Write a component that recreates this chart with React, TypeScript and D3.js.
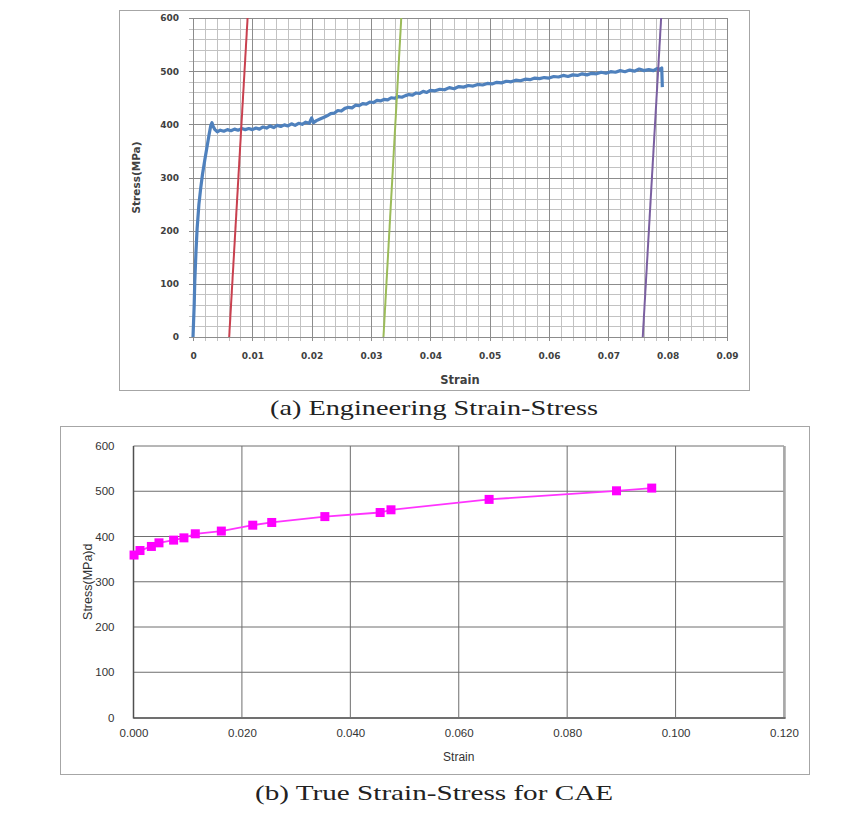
import React, { useEffect, useRef } from "react";
import * as d3 from "d3";

// (a) engineering strain-stress test curve
const engStrain = [
  0, 0.0002, 0.0003, 0.0005, 0.0007, 0.001, 0.0013, 0.0016, 0.002, 0.0024,
  0.0027, 0.003, 0.0032, 0.0034, 0.0037, 0.0041, 0.0046, 0.0052, 0.0058, 0.0064,
  0.007, 0.0076, 0.0082, 0.0088, 0.0094, 0.01, 0.0106, 0.0112, 0.0118, 0.0124,
  0.013, 0.0136, 0.0142, 0.0148, 0.0154, 0.016, 0.0166, 0.0172, 0.0178, 0.0184,
  0.019, 0.0196, 0.02, 0.0203, 0.0208, 0.0214, 0.022, 0.0226, 0.0232, 0.0238,
  0.0244, 0.025, 0.0256, 0.0262, 0.0268, 0.0274, 0.028, 0.0286, 0.0292, 0.0298,
  0.0304, 0.031, 0.0316, 0.0322, 0.0328, 0.0334, 0.034, 0.0346, 0.0352, 0.0358,
  0.0364, 0.037, 0.0376, 0.0382, 0.0388, 0.0394, 0.04, 0.0408, 0.0416, 0.0424,
  0.0432, 0.044, 0.0448, 0.0456, 0.0464, 0.0472, 0.048, 0.0488, 0.0496, 0.0504,
  0.0512, 0.052, 0.0528, 0.0536, 0.0544, 0.0552, 0.056, 0.0568, 0.0576, 0.0584,
  0.0592, 0.06, 0.0608, 0.0616, 0.0624, 0.0632, 0.064, 0.0648, 0.0656, 0.0664,
  0.0672, 0.068, 0.0688, 0.0696, 0.0704, 0.0712, 0.072, 0.0728, 0.0736, 0.0744,
  0.0752, 0.076, 0.0768, 0.0776, 0.0782, 0.0786, 0.079, 0.0791,
];
const engStress = [
  0, 60, 105, 160, 205, 250, 280, 306, 334, 360,
  380, 398, 403, 396, 390, 386, 389, 387, 390, 388,
  391, 389, 392, 390, 392, 390, 393, 391, 395, 393,
  397, 394, 398, 396, 399, 397, 401, 398, 402, 400,
  404, 402, 412, 403, 407, 410, 413, 416, 420, 421,
  426, 425, 430, 432, 431, 436, 435, 439, 438, 442,
  441, 445, 444, 447, 446, 450, 449, 452, 451, 454,
  456, 455, 459, 458, 462, 460, 464, 463, 466, 465,
  469, 467, 471, 470, 473, 472, 475, 474, 477, 476,
  479, 478, 481, 480, 483, 482, 485, 484, 487, 486,
  488, 487, 490, 489, 492, 490, 493, 492, 495, 493,
  496, 495, 498, 496, 499, 498, 501, 499, 502, 500,
  504, 501, 503, 501, 505, 503, 506, 470,
];

// offset lines drawn with the elastic slope
const redLineStrain = [0.0061, 0.0092];
const greenLineStrain = [0.0321, 0.0351];
const purpleLineStrain = [0.0758, 0.0789];
const offsetLineStress = [0, 600];

const engXTicks = [0, 0.01, 0.02, 0.03, 0.04, 0.05, 0.06, 0.07, 0.08, 0.09];
const engYTicks = [0, 100, 200, 300, 400, 500, 600];

// (b) true strain-stress points for CAE
const trueStrain = [
  0.0001, 0.0012, 0.0033, 0.0047, 0.0074, 0.0093, 0.0114, 0.0162, 0.022, 0.0255,
  0.0353, 0.0455, 0.0475, 0.0656, 0.0891, 0.0956,
];
const trueStress = [
  359, 369, 378, 386, 392, 397, 406, 412, 425, 431,
  444, 453, 459, 482, 501, 507,
];
const trueXTicks = [0, 0.02, 0.04, 0.06, 0.08, 0.1, 0.12];
const trueYTicks = [0, 100, 200, 300, 400, 500, 600];

function drawEngineering(svg) {
  const x = d3.scaleLinear().domain([0, 0.09]).range([193, 727]);
  const y = d3.scaleLinear().domain([0, 600]).range([337, 18]);

  svg
    .append("rect")
    .attr("x", 119.5)
    .attr("y", 10.5)
    .attr("width", 630)
    .attr("height", 380)
    .attr("fill", "#fff")
    .attr("stroke", "#a6a6a6");

  const grid = svg.append("g");
  // minor grid (with small outside ticks)
  grid
    .selectAll(".mx")
    .data(x.ticks(45))
    .enter()
    .append("line")
    .attr("x1", (d) => Math.round(x(d)) + 0.5)
    .attr("x2", (d) => Math.round(x(d)) + 0.5)
    .attr("y1", y(0) + 4)
    .attr("y2", y(600))
    .attr("stroke", "#c2c2c2");
  grid
    .selectAll(".my")
    .data(y.ticks(30))
    .enter()
    .append("line")
    .attr("y1", (d) => Math.round(y(d)) + 0.5)
    .attr("y2", (d) => Math.round(y(d)) + 0.5)
    .attr("x1", x(0) - 4)
    .attr("x2", x(0.09))
    .attr("stroke", "#c2c2c2");
  // major grid
  grid
    .selectAll(".Mx")
    .data(engXTicks)
    .enter()
    .append("line")
    .attr("x1", (d) => Math.round(x(d)) + 0.5)
    .attr("x2", (d) => Math.round(x(d)) + 0.5)
    .attr("y1", y(0) + 4)
    .attr("y2", y(600))
    .attr("stroke", "#8c8c8c");
  grid
    .selectAll(".My")
    .data(engYTicks)
    .enter()
    .append("line")
    .attr("y1", (d) => Math.round(y(d)) + 0.5)
    .attr("y2", (d) => Math.round(y(d)) + 0.5)
    .attr("x1", x(0) - 4)
    .attr("x2", x(0.09))
    .attr("stroke", "#8c8c8c");

  svg
    .append("clipPath")
    .attr("id", "engClip")
    .append("rect")
    .attr("x", x(0) - 2)
    .attr("y", y(600))
    .attr("width", x(0.09) - x(0) + 2)
    .attr("height", y(0) - y(600) + 2);

  const plot = svg.append("g").attr("clip-path", "url(#engClip)");
  const line = d3
    .line()
    .x((d) => x(d[0]))
    .y((d) => y(d[1]));

  plot
    .append("path")
    .attr("d", line(engStrain.map((s, i) => [s, engStress[i]])))
    .attr("fill", "none")
    .attr("stroke", "#4F81BD")
    .attr("stroke-width", 3.2)
    .attr("stroke-linejoin", "round");

  [
    [redLineStrain, "#C8404F"],
    [greenLineStrain, "#9BBB59"],
    [purpleLineStrain, "#7A5FA0"],
  ].forEach(([strains, color]) => {
    plot
      .append("path")
      .attr("d", line(strains.map((s, i) => [s, offsetLineStress[i]])))
      .attr("fill", "none")
      .attr("stroke", color)
      .attr("stroke-width", 2);
  });

  const tickFont = "'DejaVu Sans', sans-serif";
  const xAxis = svg
    .append("g")
    .attr("transform", `translate(0,${y(0)})`)
    .call(
      d3
        .axisBottom(x)
        .tickValues(engXTicks)
        .tickSize(0)
        .tickPadding(16)
        .tickFormat((d) => (d === 0 ? "0" : d3.format(".2f")(d)))
    );
  xAxis.select(".domain").remove();
  xAxis
    .selectAll("text")
    .style("font-family", tickFont)
    .style("font-weight", "bold")
    .style("font-size", "9px")
    .attr("fill", "#404040");

  const yAxis = svg
    .append("g")
    .attr("transform", `translate(${x(0)},0)`)
    .call(d3.axisLeft(y).tickValues(engYTicks).tickSize(0).tickPadding(14));
  yAxis.select(".domain").remove();
  yAxis
    .selectAll("text")
    .style("font-family", tickFont)
    .style("font-weight", "bold")
    .style("font-size", "9px")
    .attr("fill", "#404040");

  svg
    .append("text")
    .attr("x", (x(0) + x(0.09)) / 2)
    .attr("y", 384)
    .attr("text-anchor", "middle")
    .style("font-family", tickFont)
    .style("font-weight", "bold")
    .style("font-size", "11.5px")
    .attr("fill", "#404040")
    .text("Strain");

  svg
    .append("text")
    .attr("transform", `translate(140,${(y(0) + y(600)) / 2}) rotate(-90)`)
    .attr("text-anchor", "middle")
    .style("font-family", tickFont)
    .style("font-weight", "bold")
    .style("font-size", "10.5px")
    .attr("fill", "#404040")
    .text("Stress(MPa)");
}

function drawTrue(svg) {
  const x = d3.scaleLinear().domain([0, 0.12]).range([133.5, 784]);
  const y = d3.scaleLinear().domain([0, 600]).range([717.5, 446]);

  svg
    .append("rect")
    .attr("x", 60.5)
    .attr("y", 426.5)
    .attr("width", 749)
    .attr("height", 348)
    .attr("fill", "#fff")
    .attr("stroke", "#a6a6a6");

  const grid = svg.append("g");
  grid
    .selectAll(".gx")
    .data(trueXTicks)
    .enter()
    .append("line")
    .attr("x1", (d) => x(d))
    .attr("x2", (d) => x(d))
    .attr("y1", y(0))
    .attr("y2", y(600))
    .attr("stroke", "#6e6e6e");
  grid
    .selectAll(".gy")
    .data(trueYTicks)
    .enter()
    .append("line")
    .attr("y1", (d) => y(d))
    .attr("y2", (d) => y(d))
    .attr("x1", x(0))
    .attr("x2", x(0.12))
    .attr("stroke", "#6e6e6e");

  // plot-area borders
  svg
    .append("line")
    .attr("x1", x(0.12) + 0.5)
    .attr("x2", x(0.12) + 0.5)
    .attr("y1", y(600))
    .attr("y2", y(0) + 1)
    .attr("stroke", "#a8a8a8")
    .attr("stroke-width", 2.5);
  svg
    .append("line")
    .attr("x1", x(0))
    .attr("x2", x(0.12) + 1.5)
    .attr("y1", y(0) + 0.5)
    .attr("y2", y(0) + 0.5)
    .attr("stroke", "#707070")
    .attr("stroke-width", 2);
  svg
    .append("line")
    .attr("x1", x(0))
    .attr("x2", x(0))
    .attr("y1", y(600))
    .attr("y2", y(0) + 1)
    .attr("stroke", "#505050")
    .attr("stroke-width", 1.5);

  const pts = trueStrain.map((s, i) => [s, trueStress[i]]);
  const line = d3
    .line()
    .x((d) => x(d[0]))
    .y((d) => y(d[1]));

  svg
    .append("path")
    .attr("d", line(pts))
    .attr("fill", "none")
    .attr("stroke", "#FF33FF")
    .attr("stroke-width", 1.8);

  const size = 9;
  svg
    .append("g")
    .selectAll("rect")
    .data(pts)
    .enter()
    .append("rect")
    .attr("x", (d) => x(d[0]) - size / 2)
    .attr("y", (d) => y(d[1]) - size / 2)
    .attr("width", size)
    .attr("height", size)
    .attr("fill", "#FF00FF");

  const font = "'Liberation Sans', Arial, sans-serif";
  const xAxis = svg
    .append("g")
    .attr("transform", `translate(0,${y(0)})`)
    .call(
      d3
        .axisBottom(x)
        .tickValues(trueXTicks)
        .tickSize(0)
        .tickPadding(11)
        .tickFormat(d3.format(".3f"))
    );
  xAxis.select(".domain").remove();
  xAxis
    .selectAll("text")
    .style("font-family", font)
    .style("font-size", "11.5px")
    .attr("fill", "#333");

  const yAxis = svg
    .append("g")
    .attr("transform", `translate(${x(0)},0)`)
    .call(d3.axisLeft(y).tickValues(trueYTicks).tickSize(0).tickPadding(19));
  yAxis.select(".domain").remove();
  yAxis
    .selectAll("text")
    .style("font-family", font)
    .style("font-size", "11.5px")
    .attr("fill", "#333");

  svg
    .append("text")
    .attr("x", (x(0) + x(0.12)) / 2)
    .attr("y", 761)
    .attr("text-anchor", "middle")
    .style("font-family", font)
    .style("font-size", "12px")
    .attr("fill", "#333")
    .text("Strain");

  svg
    .append("text")
    .attr("transform", `translate(92,${(y(0) + y(600)) / 2}) rotate(-90)`)
    .attr("text-anchor", "middle")
    .style("font-family", font)
    .style("font-size", "12.5px")
    .attr("fill", "#333")
    .text("Stress(MPa)d");
}

function drawCaptions(svg) {
  const captions = [
    { text: "(a) Engineering Strain-Stress", x: 270, y: 415, len: 328 },
    { text: "(b) True Strain-Stress for CAE", x: 255, y: 800, len: 358 },
  ];
  captions.forEach((c) => {
    svg
      .append("text")
      .attr("x", c.x)
      .attr("y", c.y)
      .attr("textLength", c.len)
      .attr("lengthAdjust", "spacingAndGlyphs")
      .style("font-family", "'Liberation Serif', serif")
      .style("font-size", "21px")
      .attr("fill", "#222")
      .text(c.text);
  });
}

const App = () => {
  const ref = useRef(null);

  useEffect(() => {
    const svg = d3.select(ref.current);
    svg.selectAll("*").remove();
    drawEngineering(svg);
    drawTrue(svg);
    drawCaptions(svg);
  }, []);

  return (
    <svg
      ref={ref}
      width={846}
      height={817}
      style={{ position: "absolute", left: 0, top: 0, background: "#fff" }}
    />
  );
};

export default App;
